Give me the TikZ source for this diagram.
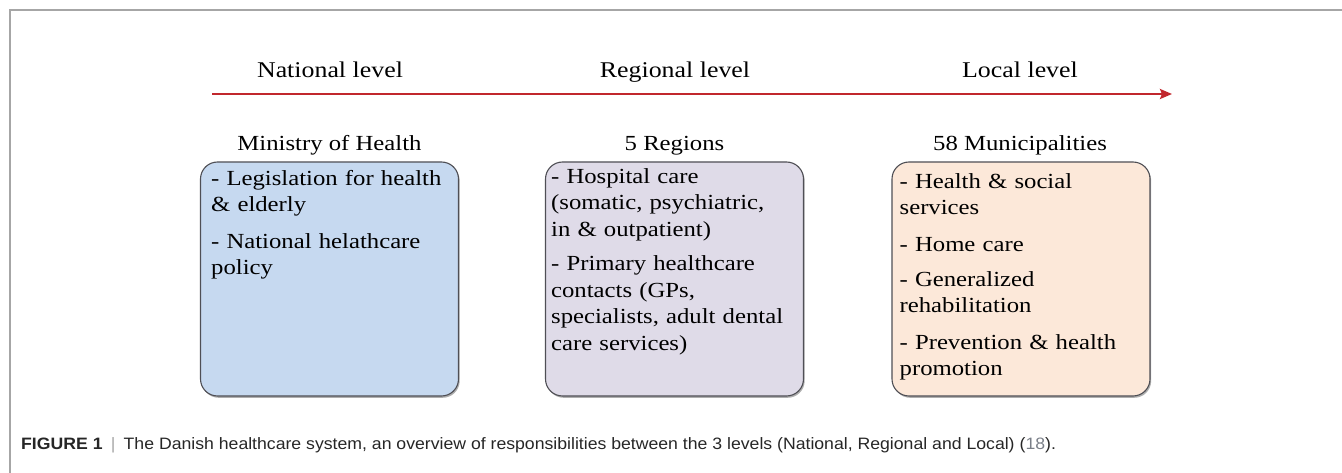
\documentclass[tikz,border=0pt]{standalone}
\usepackage{fontspec}
\setmainfont{Liberation Serif}[FakeStretch=1.15]
\newfontfamily\capfont{Liberation Sans}[FakeStretch=1.07]
\usepackage{xcolor}
\usetikzlibrary{arrows.meta,positioning,shadows}

\definecolor{natblue}{HTML}{C6D9F0}
\definecolor{regpurple}{HTML}{DFDBE8}
\definecolor{locpeach}{HTML}{FCE8D9}
\definecolor{cardline}{HTML}{4F4F55}
\definecolor{axisred}{HTML}{C1272D}
\definecolor{framegray}{HTML}{A6A6A6}
\definecolor{reflink}{HTML}{7A7F88}

\begin{document}
\begin{tikzpicture}[x=1pt, y=-1pt,
  lvl/.style={font=\fontsize{22.5}{27}\selectfont, anchor=base, inner sep=0pt},
  head/.style={font=\fontsize{21.5}{26}\selectfont, anchor=base, inner sep=0pt},
  card/.style={draw=cardline, line width=1.1pt, rounded corners=17pt,
    minimum width=258pt, minimum height=234pt, inner sep=0pt,
    drop shadow={shadow xshift=1.2pt, shadow yshift=-1.8pt, opacity=0.45, fill=black!70}},
  items/.style={font=\fontsize{21.5}{26.5}\selectfont, align=left, anchor=base west,
    text width=250pt, inner sep=0pt},
  axis/.style={draw=axisred, line width=2.4pt, -{Stealth[length=12pt, width=10pt, inset=2pt]}},
  caption/.style={font=\capfont\fontsize{16.5}{19}\selectfont, anchor=base west, inner sep=0pt, text=black!85}
]
\useasboundingbox (0,0) rectangle (1342,473);
\draw[framegray, line width=1.5pt] (10,473) -- (10,10) -- (1342,10);

% levels along the top
\node[lvl] (nat) at (330,78) {National level};
\node[lvl] (reg) at (675,78) {Regional level};
\node[lvl] (loc) at (1020,78) {Local level};
\coordinate (a0) at (212,94);
\coordinate (a1) at (1172,94);
\draw[axis] (a0) -- (a1);

% one card per level
\node[card, fill=natblue] (ministry) at (329.5,279) {};
\node[card, fill=regpurple] (regions) at (674.5,279) {};
\node[card, fill=locpeach] (munis) at (1021,279) {};

\node[head] (minhead) at (329.5,151) {Ministry of Health};
\node[head] (reghead) at (674.5,151) {5 Regions};
\node[head] (munhead) at (1020,151) {58 Municipalities};

\node[items] (minitems) at ([xshift=11pt, yshift=-24pt]ministry.north west)
  {- Legislation for health\\\& elderly\\[10pt]- National helathcare\\policy};
\node[items] (regitems) at ([xshift=6pt, yshift=-22pt]regions.north west)
  {- Hospital care\\(somatic, psychiatric,\\in \& outpatient)\\[8pt]- Primary healthcare\\contacts (GPs,\\specialists, adult dental\\care services)};
\node[items] (munitems) at ([xshift=8pt, yshift=-27pt]munis.north west)
  {- Health \& social\\services\\[10pt]- Home care\\[8.5pt]- Generalized\\rehabilitation\\[10pt]- Prevention \& health\\promotion};

\node[caption] (cap) at (21,449)
  {\textbf{FIGURE 1}\enspace{\color{framegray}|}\enspace The Danish healthcare system, an overview of responsibilities between the 3 levels (National, Regional and Local) (\textcolor{reflink}{18}).};
\end{tikzpicture}
\end{document}
